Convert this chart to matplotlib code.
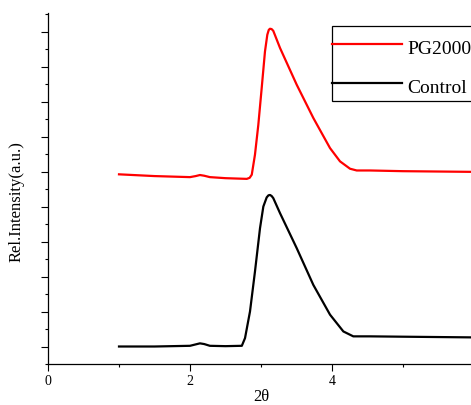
import numpy as np
import matplotlib
matplotlib.use("Agg")
import matplotlib.pyplot as plt
from matplotlib.patches import Rectangle
from matplotlib.ticker import MultipleLocator, NullFormatter

plt.rcParams['font.family'] = 'serif'
plt.rcParams['font.serif'] = ['Liberation Serif', 'DejaVu Serif']

# values (y in arbitrary units, one major tick = 1)
pg_x = [1.0, 1.5, 2.0, 2.08, 2.14, 2.2, 2.28, 2.5, 2.8, 2.84, 2.87, 2.915, 2.962,
        3.01, 3.056, 3.089, 3.11, 3.127, 3.15, 3.173, 3.268, 3.503, 3.737, 3.972,
        4.113, 4.254, 4.348, 4.535, 5.0, 5.5, 6.0]
pg_y = [4.92, 4.87, 4.84, 4.87, 4.90, 4.88, 4.84, 4.81, 4.79, 4.82, 4.91, 5.48, 6.33,
        7.39, 8.43, 8.91, 9.05, 9.08, 9.07, 9.02, 8.53, 7.48, 6.53, 5.67,
        5.29, 5.08, 5.03, 5.03, 5.01, 5.0, 4.99]

ctrl_x = [1.0, 1.5, 2.0, 2.08, 2.14, 2.2, 2.28, 2.5, 2.73, 2.775, 2.845, 2.915,
          2.986, 3.033, 3.08, 3.105, 3.127, 3.15, 3.173, 3.268, 3.503, 3.737,
          3.972, 4.16, 4.30, 4.535, 5.0, 5.5, 6.0]
ctrl_y = [0.0, 0.0, 0.02, 0.06, 0.09, 0.07, 0.02, 0.01, 0.02, 0.24, 1.0, 2.14,
          3.38, 4.0, 4.26, 4.32, 4.33, 4.30, 4.24, 3.81, 2.81, 1.76,
          0.91, 0.43, 0.29, 0.29, 0.28, 0.27, 0.26]

fig = plt.figure(figsize=(4.71, 4.05), dpi=100)
ax = fig.add_axes([48/471, 1 - 364/405, 426/471, 351/405])

ax.plot(pg_x, pg_y, color='red', lw=1.6, label='PG2000', solid_joinstyle='round')
ax.plot(ctrl_x, ctrl_y, color='black', lw=1.6, label='Control', solid_joinstyle='round')

ax.set_xlim(0, 6)
ax.set_ylim(-0.5, 9.53)

ax.xaxis.set_major_locator(MultipleLocator(2))
ax.xaxis.set_minor_locator(MultipleLocator(1))
ax.yaxis.set_major_locator(MultipleLocator(1))
ax.yaxis.set_minor_locator(MultipleLocator(0.5))
ax.yaxis.set_major_formatter(NullFormatter())

ax.tick_params(which='major', direction='out', length=5, width=0.8, labelsize=10, pad=3)
ax.tick_params(which='minor', direction='out', length=2.5, width=0.8)

for s in ['top', 'right']:
    ax.spines[s].set_visible(False)
for s in ['left', 'bottom']:
    ax.spines[s].set_linewidth(0.9)

ax.set_xlabel('2θ', fontsize=12)
ax.xaxis.set_label_coords(0.5, -0.072)
ax.set_ylabel('Rel.Intensity(a.u.)', fontsize=12)
ax.yaxis.set_label_coords(-0.056, 0.464)

# legend box (runs off the right edge like in the original)
box = Rectangle((332/471, 1 - 101/405), 0.4, 75/405, transform=fig.transFigure,
                facecolor='white', edgecolor='black', lw=0.9, clip_on=False, zorder=4)
ax.add_artist(box)

leg = ax.legend(loc='upper left', bbox_to_anchor=(332/471, 1 - 34/405),
                bbox_transform=fig.transFigure, fontsize=14, frameon=False,
                borderpad=0, borderaxespad=0,
                handlelength=3.6, handleheight=1.85, handletextpad=0.26,
                labelspacing=0.56)
leg.set_zorder(5)

fig.savefig('out.png', dpi=100)
